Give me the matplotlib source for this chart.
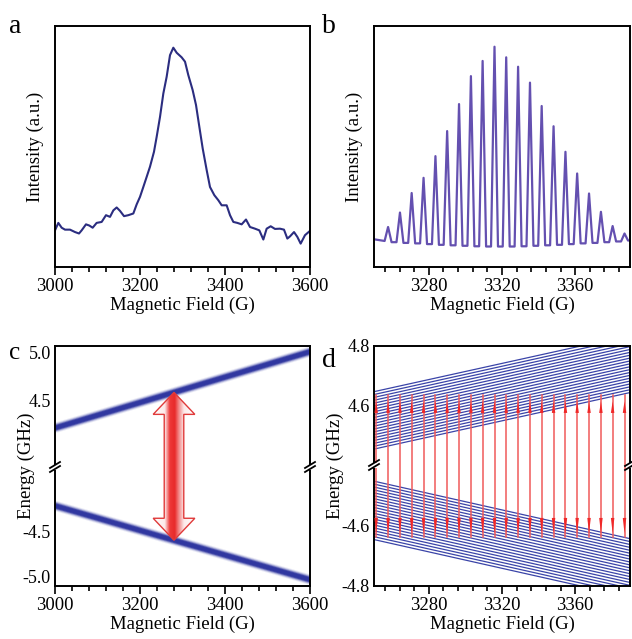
import numpy as np
import matplotlib
matplotlib.use("Agg")
import matplotlib.pyplot as plt
from matplotlib.patches import Polygon, Rectangle
from matplotlib.lines import Line2D
from matplotlib.colors import LinearSegmentedColormap
from matplotlib.ticker import MultipleLocator

plt.rcParams['font.family'] = ['Liberation Serif', 'DejaVu Serif']
plt.rcParams['axes.unicode_minus'] = False

# ---------------- data ----------------
# panel a : broad EPR line
field_a = [3000, 3007.8, 3015.7, 3023.5, 3035.3, 3047.1, 3056.5, 3062.7, 3072.9, 3080.8,
           3088.6, 3098.0, 3109.8, 3120.0, 3129.4, 3137.3, 3145.1, 3152.9, 3162.4, 3172.5,
           3184.3, 3192.2, 3200.0, 3207.8, 3215.7, 3223.5, 3232.9, 3239.2, 3247.1, 3254.9,
           3262.7, 3270.6, 3278.4, 3286.3, 3298.0, 3305.9, 3313.7, 3323.9, 3331.8, 3339.6,
           3347.5, 3356.9, 3364.7, 3374.9, 3384.3, 3392.2, 3403.9, 3411.8, 3419.6, 3429.0,
           3439.2, 3449.4, 3458.8, 3470.6, 3480.8, 3490.2, 3498.0, 3507.5, 3517.6, 3529.4,
           3538.8, 3546.7, 3552.9, 3562.4, 3570.2, 3578.0, 3588.2, 3600]
intensity_a = [15.2, 18.3, 16.3, 15.5, 15.5, 14.5, 13.9, 15.2, 17.7, 17.2,
               16.3, 18.3, 18.7, 21.5, 20.8, 23.5, 24.7, 23.3, 21.1, 21.5,
               22.2, 26.0, 29.1, 33.2, 37.4, 41.6, 47.8, 54.0, 62.3, 72.0,
               78.9, 87.9, 91.0, 88.9, 87.0, 85.2, 79.6, 73.4, 67.2, 58.2,
               49.2, 40.2, 33.2, 29.8, 27.7, 25.6, 25.6, 21.5, 18.7, 18.3,
               17.7, 19.7, 16.6, 15.9, 15.2, 11.4, 15.9, 16.9, 15.8, 15.9,
               15.5, 11.8, 12.7, 14.5, 12.5, 9.7, 13.2, 15.0]

# panel b : hyperfine-resolved spectrum
peak_field_b = [3257.7, 3264.2, 3270.6, 3277.1, 3283.6, 3290.0, 3296.5, 3303.0, 3309.4, 3315.9,
                3322.3, 3328.8, 3335.3, 3341.7, 3348.2, 3354.7, 3361.1, 3367.6, 3374.1, 3380.5, 3387.0]
peak_int_b = [16.6, 22.6, 30.7, 37.0, 46.0, 56.4, 67.6, 79.2, 85.5, 91.4,
              87.0, 83.1, 76.5, 66.8, 58.4, 47.8, 38.8, 30.5, 22.9, 17.0, 13.9]
valley_int_b = [10.8, 10.3, 10.0, 9.8, 9.5, 9.2, 9.0, 8.8, 8.6, 8.5, 8.5,
                8.5, 8.6, 8.8, 9.0, 9.2, 9.5, 9.8, 10.0, 10.3, 10.6, 11.0]
edge_field_b = [3250, 3390]
edge_int_b = [11.5, 11.0]
peak_halfwidth_b = 1.9

# panel c : Zeeman levels
level_field_c = [3000, 3600]
upper_level_c = [4.21, 5.01]
lower_level_c = [-4.21, -5.03]
transition_field_c = 3280

# panel d : hyperfine levels and transitions
band_field_d = [3250, 3390]
upper_center_d = [4.55, 4.74]
lower_center_d = [-4.55, -4.74]
hyperfine_offsets_d = [-0.0965, -0.0869, -0.0772, -0.0676, -0.0579, -0.0483, -0.0386,
                       -0.0290, -0.0193, -0.0097, 0.0, 0.0097, 0.0193, 0.0290, 0.0386,
                       0.0483, 0.0579, 0.0676, 0.0772, 0.0869, 0.0965]
arrow_field_d = [3251.2, 3257.7, 3264.2, 3270.6, 3277.1, 3283.6, 3290.0, 3296.5, 3303.0, 3309.4,
                 3315.9, 3322.3, 3328.8, 3335.3, 3341.7, 3348.2, 3354.7, 3361.1, 3367.6, 3374.1,
                 3380.5, 3387.0]
arrow_top_d = 4.635
arrow_bottom_d = -4.638

# ---------------- figure ----------------
W, H = 632, 639
fig = plt.figure(figsize=(W / 100, H / 100), dpi=100)
FS = 13.5
SPW = 1.4


def box(l, t, r, b):
    return [l / W, 1 - b / H, (r - l) / W, (b - t) / H]


def style_x(ax, major, minor, labels=True):
    ax.xaxis.set_major_locator(MultipleLocator(major))
    ax.xaxis.set_minor_locator(MultipleLocator(minor))
    ax.tick_params(axis='x', which='major', direction='out', length=6, width=1.2,
                   labelsize=FS, pad=2, top=False)
    ax.tick_params(axis='x', which='minor', direction='out', length=3.5, width=1.2, top=False)
    if not labels:
        ax.tick_params(axis='x', which='both', labelbottom=False, length=0)


def spines(ax):
    for s in ax.spines.values():
        s.set_linewidth(SPW)


def fig_line(x1, y1, x2, y2, **kw):
    fig.add_artist(Line2D([x1 / W, x2 / W], [1 - y1 / H, 1 - y2 / H],
                          transform=fig.transFigure, **kw))


def break_mark(x, y):
    fig.add_artist(Rectangle(((x - 3) / W, 1 - (y + 2.5) / H), 6 / W, 5 / H,
                             transform=fig.transFigure, facecolor='white',
                             edgecolor='none', zorder=20))
    for dy in (-2.0, 2.0):
        fig_line(x - 5, y + dy + 3, x + 5, y + dy - 3, color='black', lw=1.3, zorder=21)


# ---- panel a ----
axa = fig.add_axes(box(55, 26, 310, 267))
axa.plot(field_a, intensity_a, color='#2b2d80', lw=1.5)
axa.set_xlim(3000, 3600)
axa.set_ylim(0, 100)
axa.set_yticks([])
style_x(axa, 200, 40)
spines(axa)
axa.set_xlabel('Magnetic Field (G)', fontsize=FS, labelpad=1)
axa.set_ylabel('Intensity (a.u.)', fontsize=FS, labelpad=8)

# ---- panel b ----
axb = fig.add_axes(box(374, 26, 630, 267))
xb = [edge_field_b[0]]
yb = [edge_int_b[0]]
for i, (p, h) in enumerate(zip(peak_field_b, peak_int_b)):
    xb += [p - peak_halfwidth_b, p, p + peak_halfwidth_b]
    yb += [valley_int_b[i], h, valley_int_b[i + 1]]
xb.append(edge_field_b[1])
yb.append(edge_int_b[1])
axb.plot(xb, yb, color='#6450b0', lw=1.6)
axb.set_xlim(3250, 3390)
axb.set_ylim(0, 100)
axb.set_yticks([])
style_x(axb, 40, 8)
spines(axb)
axb.set_xlabel('Magnetic Field (G)', fontsize=FS, labelpad=1)
axb.set_ylabel('Intensity (a.u.)', fontsize=FS, labelpad=8)

# ---- panel c ----
axc_t = fig.add_axes(box(55, 346, 310, 467))
axc_b = fig.add_axes(box(55, 467, 310, 586))
axc_t.set_ylim(3.80, 5.07)
axc_b.set_ylim(-5.10, -3.78)
band_layers = [(7.5, 0.10), (6.2, 0.22), (5.0, 0.40), (3.8, 0.75), (2.6, 0.95)]
for lw, al in band_layers:
    axc_t.plot(level_field_c, upper_level_c, color='#2f36a0', lw=lw, alpha=al,
               solid_capstyle='butt')
    axc_b.plot(level_field_c, lower_level_c, color='#2f36a0', lw=lw, alpha=al,
               solid_capstyle='butt')
for ax in (axc_t, axc_b):
    ax.set_xlim(3000, 3600)
    spines(ax)
    ax.tick_params(axis='y', length=0, labelsize=FS - 0.5, pad=3)
axc_t.spines['bottom'].set_visible(False)
axc_b.spines['top'].set_visible(False)
axc_t.set_yticks([4.5, 5.0])
axc_b.set_yticks([-5.0, -4.5])
style_x(axc_t, 200, 40, labels=False)
style_x(axc_b, 200, 40)
axc_b.set_xlabel('Magnetic Field (G)', fontsize=FS, labelpad=1)
fig.text(26 / W, 1 - 466 / H, 'Energy (GHz)', rotation=90, ha='center', va='center',
         fontsize=FS)

# double arrow with gradient fill (overlay spanning both halves)
axo = fig.add_axes(box(55, 346, 310, 586))
axo.set_xlim(3000, 3600)
axo.set_ylim(0, 1)
axo.axis('off')
axo.patch.set_visible(False)
frac = (transition_field_c - level_field_c[0]) / (level_field_c[1] - level_field_c[0])
up_c = upper_level_c[0] + (upper_level_c[1] - upper_level_c[0]) * frac
lo_c = lower_level_c[0] + (lower_level_c[1] - lower_level_c[0]) * frac
inv = axo.transData.inverted()
y_top = inv.transform(axc_t.transData.transform((transition_field_c, up_c)))[1]
y_bot = inv.transform(axc_b.transData.transform((transition_field_c, lo_c)))[1]
xc = transition_field_c
hl = 22 / 240.0
hw, sw = 49, 23
verts = [(xc, y_top), (xc + hw, y_top - hl), (xc + sw, y_top - hl), (xc + sw, y_bot + hl),
         (xc + hw, y_bot + hl), (xc, y_bot), (xc - hw, y_bot + hl), (xc - sw, y_bot + hl),
         (xc - sw, y_top - hl), (xc - hw, y_top - hl)]
arrow = Polygon(verts, closed=True, facecolor='none', edgecolor='#e03a3a', lw=1.0, zorder=5)
cmap = LinearSegmentedColormap.from_list('rw', [(0.0, 'white'), (0.28, '#fdeaea'),
                                                (0.40, '#ee3838'), (0.52, '#e82a2a'),
                                                (0.62, '#f38a8a'), (0.74, '#fdeaea'),
                                                (1.0, 'white')])
grad = np.linspace(0, 1, 300).reshape(1, -1)
im = axo.imshow(grad, cmap=cmap, aspect='auto', extent=(xc - hw, xc + hw, y_bot, y_top),
                origin='lower', zorder=4, interpolation='bilinear')
axo.add_patch(arrow)
im.set_clip_path(arrow)
axo.set_xlim(3000, 3600)
axo.set_ylim(0, 1)

# ---- panel d ----
axd_t = fig.add_axes(box(374, 346, 630, 465))
axd_b = fig.add_axes(box(374, 465, 630, 586))
axd_t.set_ylim(4.4, 4.8)
axd_b.set_ylim(-4.8, -4.4)
for off in hyperfine_offsets_d:
    axd_t.plot(band_field_d, [c + off for c in upper_center_d], color='#3a44a8', lw=0.9)
    axd_b.plot(band_field_d, [c + off for c in lower_center_d], color='#3a44a8', lw=0.9)
for xa in arrow_field_d:
    axd_t.plot([xa, xa], [4.4, arrow_top_d], color='#f05a5a', lw=1.1, zorder=5)
    axd_b.plot([xa, xa], [-4.4, arrow_bottom_d], color='#f05a5a', lw=1.1, zorder=5)
    axd_t.fill([xa - 0.95, xa, xa + 0.95], [4.575, 4.614, 4.575], color='#f02828',
               lw=0, zorder=6)
    axd_b.fill([xa - 0.95, xa, xa + 0.95], [-4.575, -4.626, -4.575], color='#f02828',
               lw=0, zorder=6)
for ax in (axd_t, axd_b):
    ax.set_xlim(3250, 3390)
    spines(ax)
    ax.tick_params(axis='y', length=0, labelsize=FS - 0.5, pad=3)
axd_t.spines['bottom'].set_visible(False)
axd_b.spines['top'].set_visible(False)
axd_t.set_yticks([4.6, 4.8])
axd_b.set_yticks([-4.8, -4.6])
style_x(axd_t, 40, 8, labels=False)
style_x(axd_b, 40, 8)
axd_b.set_xlabel('Magnetic Field (G)', fontsize=FS, labelpad=1)
fig.text(335 / W, 1 - 466 / H, 'Energy (GHz)', rotation=90, ha='center', va='center',
         fontsize=FS)

break_mark(55, 467)
break_mark(310, 467)
break_mark(374, 465)
break_mark(630, 465)

# panel letters
fig.text(9 / W, 1 - 33 / H, 'a', fontsize=20, va='baseline', ha='left')
fig.text(322 / W, 1 - 33 / H, 'b', fontsize=20, va='baseline', ha='left')
fig.text(9 / W, 1 - 359 / H, 'c', fontsize=18, va='baseline', ha='left')
fig.text(322 / W, 1 - 367 / H, 'd', fontsize=20, va='baseline', ha='left')

fig.savefig('out.png', dpi=100)
